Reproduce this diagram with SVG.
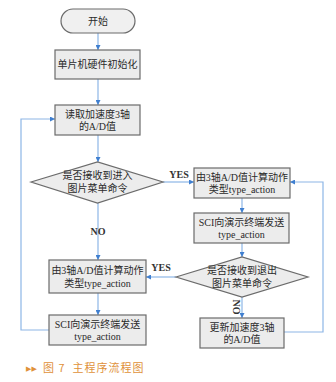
<svg xmlns="http://www.w3.org/2000/svg" width="336" height="382" viewBox="0 0 336 382">
<defs>
<marker id="ah" viewBox="0 0 6 6" refX="6" refY="3" markerWidth="5" markerHeight="5" orient="auto" markerUnits="userSpaceOnUse">
<path d="M0,0 L6,3 L0,6 z" fill="#3f7fd0"/>
</marker>
<style>
.box{fill:#ececec;stroke:#6b6b6b;stroke-width:1.2}
.t{font-family:"Liberation Serif","Noto Sans CJK SC",serif;font-size:10px;fill:#2a2a2a;text-anchor:middle}
.lbl{font-family:"Liberation Serif",serif;font-size:10px;font-weight:bold;fill:#333;text-anchor:middle}
.c{fill:none;stroke:#8db6e6;stroke-width:1.2}
.cap{font-family:"Noto Sans CJK SC",sans-serif;font-size:11px;fill:#e0913a;letter-spacing:1px}
</style>
</defs>
<rect width="336" height="382" fill="#ffffff"/>
<g id="connectors">
<path class="c" d="M98,33 V50" marker-end="url(#ah)"/>
<path class="c" d="M98,79 V105" marker-end="url(#ah)"/>
<path class="c" d="M98,135 V162" marker-end="url(#ah)"/>
<path class="c" d="M163,182 H194" marker-end="url(#ah)"/>
<path class="c" d="M98,203 V260" marker-end="url(#ah)"/>
<path class="c" d="M242,198 V213" marker-end="url(#ah)"/>
<path class="c" d="M242,243 V257" marker-end="url(#ah)"/>
<path class="c" d="M176,277 H146" marker-end="url(#ah)"/>
<path class="c" d="M242,297 V318" marker-end="url(#ah)"/>
<path class="c" d="M98,293 V315" marker-end="url(#ah)"/>
<path class="c" d="M49,330 H21 V119 H55" marker-end="url(#ah)"/>
<path class="c" d="M284,332 H323 V182 H290" marker-end="url(#ah)"/>
<text class="lbl" x="179" y="178">YES</text>
<text class="lbl" x="98" y="235">NO</text>
<text class="lbl" x="161" y="271">YES</text>
<text class="lbl" transform="translate(233,307) rotate(90)">NO</text>
</g>
<g id="start">
<rect x="61" y="9" width="74" height="24" rx="12" fill="#f0f0f0" stroke="#6b6b6b" stroke-width="1.2"/>
<text class="t" x="98" y="25">开始</text>
</g>
<g id="init">
<rect class="box" x="55" y="50" width="85" height="29"/>
<text class="t" x="97.5" y="68">单片机硬件初始化</text>
</g>
<g id="read">
<rect class="box" x="55" y="105" width="85" height="30"/>
<text class="t" x="97.5" y="117.5">读取加速度3轴</text>
<text class="t" x="97.5" y="130">的A/D值</text>
</g>
<g id="dec1">
<polygon class="box" points="31,182 97.5,162 163,182 97.5,203"/>
<text class="t" x="97.5" y="179">是否接收到进入</text>
<text class="t" x="97.5" y="192">图片菜单命令</text>
</g>
<g id="calc1">
<rect class="box" x="194" y="168" width="96" height="30"/>
<text class="t" x="242" y="180.5">由3轴A/D值计算动作</text>
<text class="t" x="242" y="193">类型type_action</text>
</g>
<g id="send1">
<rect class="box" x="194" y="213" width="95" height="30"/>
<text class="t" x="241.5" y="225.5">SCI向演示终端发送</text>
<text class="t" x="241.5" y="238">type_action</text>
</g>
<g id="dec2">
<polygon class="box" points="176,277 242,257 308,277 242,297"/>
<text class="t" x="242" y="274">是否接收到退出</text>
<text class="t" x="242" y="287">图片菜单命令</text>
</g>
<g id="calc2">
<rect class="box" x="49" y="260" width="97" height="33"/>
<text class="t" x="97.5" y="274">由3轴A/D值计算动作</text>
<text class="t" x="97.5" y="287">类型type_action</text>
</g>
<g id="send2">
<rect class="box" x="49" y="315" width="97" height="30"/>
<text class="t" x="97.5" y="327.5">SCI向演示终端发送</text>
<text class="t" x="97.5" y="340">type_action</text>
</g>
<g id="update">
<rect class="box" x="200" y="318" width="84" height="30"/>
<text class="t" x="242" y="330.5">更新加速度3轴</text>
<text class="t" x="242" y="343">的A/D值</text>
</g>
<g id="caption">
<text x="26" y="371" font-family="DejaVu Sans,sans-serif" font-size="7" fill="#e0913a">▶▶</text>
<text class="cap" x="43" y="372" xml:space="preserve">图 7  主程序流程图</text>
</g>
</svg>
